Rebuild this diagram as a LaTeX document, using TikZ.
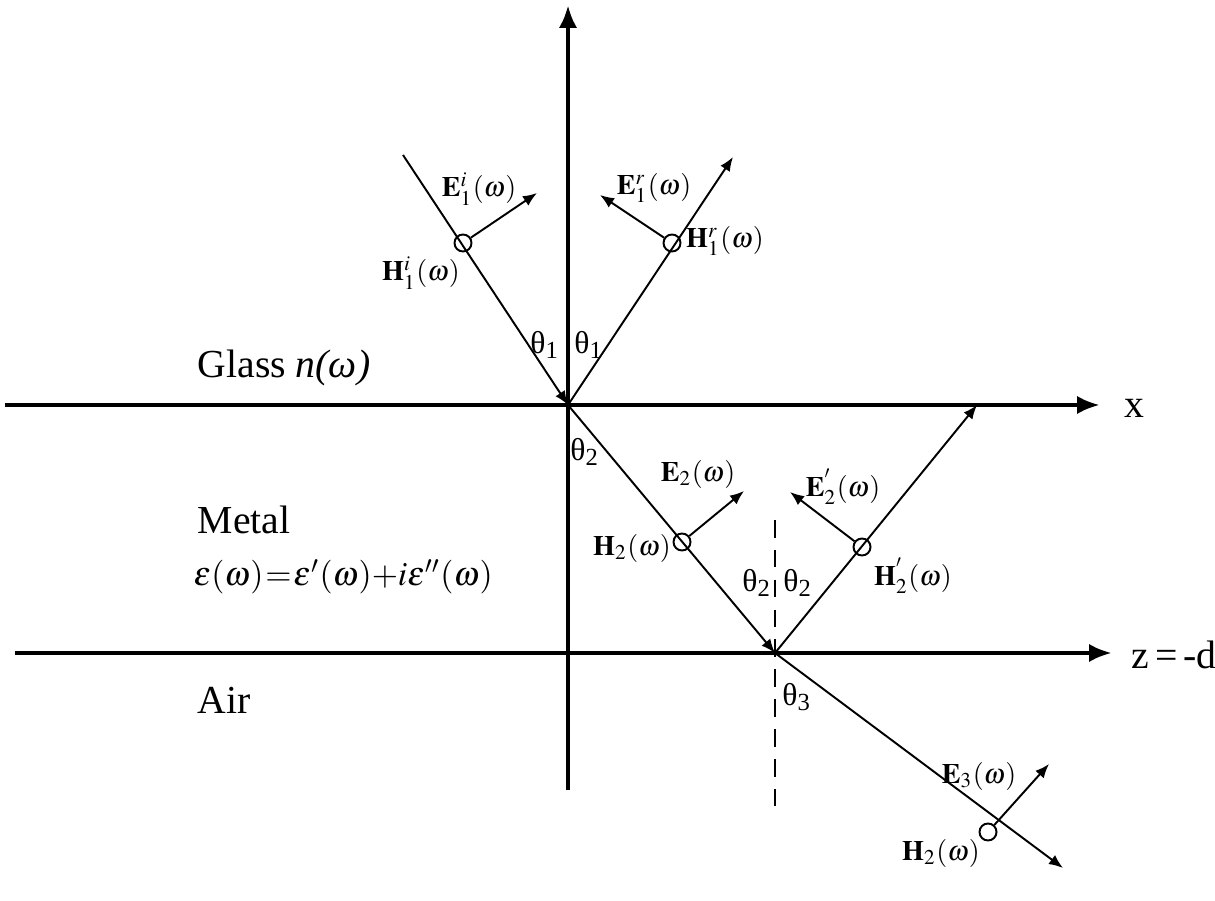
\documentclass[tikz,border=0pt]{standalone}
\usepackage{mathptmx}
\usepackage{fontspec}
\setmainfont{Liberation Serif}
\usetikzlibrary{arrows.meta}

\begin{document}
\begin{tikzpicture}[
  x=0.1mm, y=-0.1mm,
  axis/.style={line width=1.3pt, -{Latex[length=6.5pt,width=5.2pt]}},
  ray/.style={line width=0.55pt, -{Latex[length=4pt,width=3.2pt]}},
  hdot/.style={draw, circle, line width=0.55pt, minimum size=1.7mm, inner sep=0pt},
  lbl/.style={font=\fontsize{11.3}{13}\selectfont, inner sep=0pt},
  vec/.style={font=\fontsize{8}{9}\selectfont, inner sep=0pt},
  ang/.style={font=\fontsize{9}{10}\selectfont, inner sep=0pt}]
\useasboundingbox (0,0) rectangle (1215,901);
% axes
\coordinate (ybot) at (568,790);
\coordinate (ytop) at (568,5);
\coordinate (xl) at (5,405);
\coordinate (xr) at (1100,405);
\coordinate (zl) at (15,653);
\coordinate (zr) at (1112,653);
\draw[axis] (ybot) -- (ytop);
\draw[axis] (xl) -- (xr);
\draw[axis] (zl) -- (zr);
\node[lbl, anchor=west] (xlab) at (1124,408) {x};
\node[lbl, anchor=west] (zlab) at (1131,655) {z\hspace{0.15em}=\hspace{0.15em}-d};
% points on the interfaces
\coordinate (O) at (568,405);
\coordinate (P) at (775,653);
\draw[dashed, line width=0.55pt, dash pattern=on 5pt off 3.5pt] (775,520) -- (775,815);
% rays
\coordinate (inc) at (403,155);
\coordinate (refl) at (733,157);
\coordinate (refl2) at (977,405);
\coordinate (trans) at (1063,868);
\draw[ray] (inc) -- (O);
\draw[ray] (O) -- (refl);
\draw[ray] (O) -- (P);
\draw[ray] (P) -- (refl2);
\draw[ray] (P) -- (trans);
% H fields (out of page)
\node[hdot] (Hi) at (463,243) {};
\node[hdot] (Hr) at (672,243) {};
\node[hdot] (Ht) at (682,542) {};
\node[hdot] (Hm) at (862,547) {};
\node[hdot] (Ha) at (988,832) {};
% E fields
\coordinate (Ei) at (537,193);
\coordinate (Er) at (600,195);
\coordinate (Et) at (744,491);
\coordinate (Em) at (790,492);
\coordinate (Ea) at (1049,764);
\draw[ray] (Hi) -- (Ei);
\draw[ray] (Hr) -- (Er);
\draw[ray] (Ht) -- (Et);
\draw[ray] (Hm) -- (Em);
\draw[ray] (Ha) -- (Ea);
% field labels
\node[vec] (lEi) at (479,189) {$\mathbf{E}_1^i(\omega)$};
\node[vec] (lHi) at (421,273) {$\mathbf{H}_1^i(\omega)$};
\node[vec] (lEr) at (654,188) {$\mathbf{E}_1^r(\omega)$};
\node[vec] (lHr) at (725,241) {$\mathbf{H}_1^r(\omega)$};
\node[vec] (lEt) at (698,474) {$\mathbf{E}_2(\omega)$};
\node[vec] (lHt) at (632,548) {$\mathbf{H}_2(\omega)$};
\node[vec] (lEm) at (843,487) {$\mathbf{E}_2^{'}(\omega)$};
\node[vec] (lHm) at (913,576) {$\mathbf{H}_2^{'}(\omega)$};
\node[vec] (lEa) at (979,776) {$\mathbf{E}_3(\omega)$};
\node[vec] (lHa) at (941,853) {$\mathbf{H}_2(\omega)$};
% angles
\node[ang] (t1a) at (545,345) {θ\textsubscript{1}};
\node[ang] (t1b) at (589,345) {θ\textsubscript{1}};
\node[ang] (t2a) at (585,452) {θ\textsubscript{2}};
\node[ang] (t2b) at (757,583) {θ\textsubscript{2}};
\node[ang] (t2c) at (798,583) {θ\textsubscript{2}};
\node[ang] (t3) at (797,697) {θ\textsubscript{3}};
% media
\node[lbl, anchor=west] (glass) at (197,368) {Glass \textit{n(ω)}};
\node[lbl, anchor=west] (metal) at (197,520) {Metal};
\node[lbl, anchor=west, font=\fontsize{9.6}{11}\selectfont] (eps) at (193,577)
  {$\thickmuskip=1mu\medmuskip=0mu\varepsilon(\omega)=\varepsilon'(\omega)+i\varepsilon''(\omega)$};
\node[lbl, anchor=west] (air) at (197,700) {Air};
\end{tikzpicture}
\end{document}
